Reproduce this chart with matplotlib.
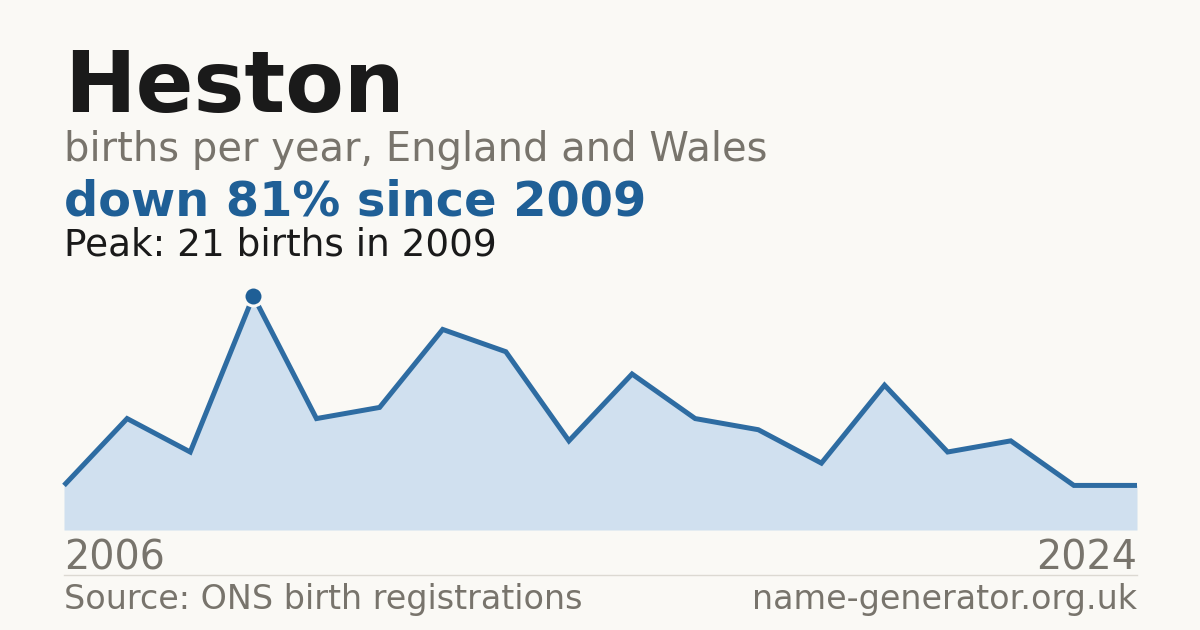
import matplotlib
matplotlib.use("Agg")
import matplotlib.pyplot as plt

first_year = 2006
last_year = 2024
births = [4, 10, 7, 21, 10, 11, 18, 16, 8, 14, 10, 9, 6, 13, 7, 8, 4, 4]
peak_index = 3
peak_value = 21

title = "Heston"
subtitle = "births per year, England and Wales"
headline = "down 81% since 2009"
peak_text = "Peak: 21 births in 2009"
source_text = "Source: ONS birth registrations"
site_text = "name-generator.org.uk"

BG = "#faf9f5"
BLUE = "#1f5f96"
LINE = "#2e6ca2"
FILL = "#d0e0ef"
GRAY = "#78746c"
DARK = "#1a1a1a"

W, H = 1200, 630
fig = plt.figure(figsize=(W / 100, H / 100), dpi=100, facecolor=BG)
plt.rcParams['font.family'] = ['DejaVu Sans']

def fx(px):
    return px / W

def fy(py):
    return 1 - py / H

xs = list(range(len(births)))

left, right, top, bottom = 64, 1137, 296, 530
ax = fig.add_axes([fx(left), fy(bottom), (right - left) / W, (bottom - top) / H])
ax.set_facecolor("none")
ax.set_xlim(xs[0], xs[-1])
ax.set_ylim(0, peak_value)
ax.fill_between(xs, births, 0, color=FILL, linewidth=0)
ax.plot(xs, births, color=LINE, linewidth=3.6, solid_joinstyle="miter",
        solid_capstyle="butt", clip_on=False)
ax.plot([xs[peak_index]], [births[peak_index]], marker="o", markersize=13.7, color=BLUE,
        markeredgecolor=BG, markeredgewidth=2.2, clip_on=False, zorder=5)
ax.axis("off")

fig.text(fx(64), fy(112), title, fontsize=61.6, fontweight="bold", color=DARK, va="baseline")
fig.text(fx(64), fy(161), subtitle, fontsize=28.8, color=GRAY, va="baseline")
fig.text(fx(64), fy(215), headline, fontsize=34.5, fontweight="bold", color=BLUE, va="baseline")
fig.text(fx(64), fy(255), peak_text, fontsize=26.9, color=DARK, va="baseline")

fig.text(fx(64), fy(570), str(first_year), fontsize=28.5, color=GRAY, va="baseline")
fig.text(fx(1137), fy(570), str(last_year), fontsize=28.5, color=GRAY, va="baseline", ha="right")

fig.add_artist(plt.Line2D([fx(64), fx(1137)], [fy(574.5), fy(574.5)], color="#dcd9d2", linewidth=1))

fig.text(fx(64), fy(609), source_text, fontsize=24.0, color=GRAY, va="baseline")
fig.text(fx(1137), fy(609), site_text, fontsize=24.0, color=GRAY, va="baseline", ha="right")

fig.savefig("out.png", dpi=100, facecolor=BG)
